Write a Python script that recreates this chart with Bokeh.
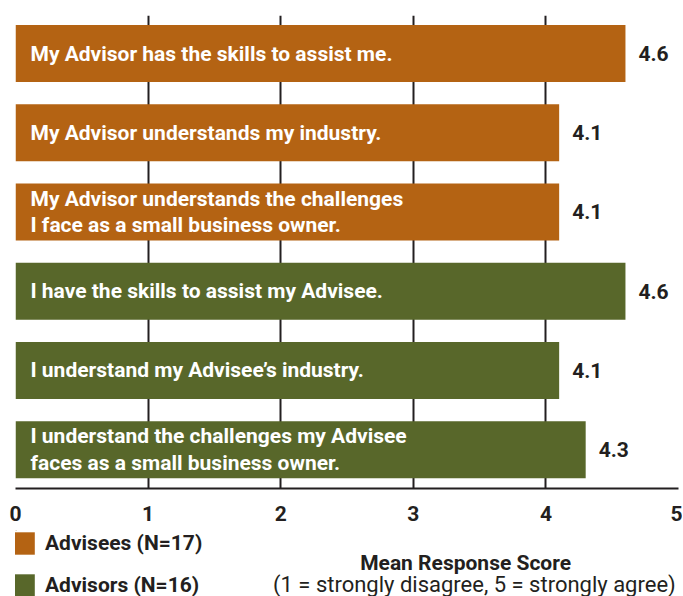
from bokeh.plotting import figure
from bokeh.layouts import column
from bokeh.models import (Range1d, FixedTicker, Legend, LegendItem, Label,
                          ColumnDataSource)
from bokeh.core.properties import value
from bokeh.embed import file_html
from bokeh.resources import INLINE

# ---- data ----
statements = [
    "My Advisor has the skills to assist me.",
    "My Advisor understands my industry.",
    "My Advisor understands the challenges\nI face as a small business owner.",
    "I have the skills to assist my Advisee.",
    "I understand my Advisee\u2019s industry.",
    "I understand the challenges my Advisee\nfaces as a small business owner.",
]
scores = [4.6, 4.1, 4.1, 4.6, 4.1, 4.3]
groups = ["Advisees (N=17)"] * 3 + ["Advisors (N=16)"] * 3
group_names = ["Advisees (N=17)", "Advisors (N=16)"]
group_colors = ["#B46313", "#58672A"]
x_ticks = [0, 1, 2, 3, 4, 5]
axis_title = "Mean Response Score"
axis_subtitle = "(1 = strongly disagree, 5 = strongly agree)"

FONT = "Roboto"
DARK = "#231F20"
FS = "21px"

W = 682
H1 = 530
H2 = 66

p = figure(width=W, height=H1, output_backend="svg", toolbar_location=None,
           x_range=Range1d(0, 5), y_range=Range1d(5.49, -0.48),
           min_border_left=15, min_border_right=4, min_border_top=15,
           min_border_bottom=42)
p.outline_line_color = None
p.yaxis.visible = False
p.ygrid.visible = False
p.xgrid.ticker = FixedTicker(ticks=x_ticks)
p.xgrid.grid_line_color = DARK
p.xgrid.grid_line_width = 2
p.xgrid.grid_line_alpha = 1

xa = p.xaxis[0]
xa.ticker = FixedTicker(ticks=x_ticks)
xa.axis_line_color = DARK
xa.axis_line_width = 2
xa.major_tick_in = 0
xa.major_tick_out = 0
xa.minor_tick_in = 0
xa.minor_tick_out = 0
xa.major_label_text_font = FONT
xa.major_label_text_font_style = "bold"
xa.major_label_text_font_size = FS
xa.major_label_text_color = DARK
xa.major_label_standoff = 17

idx = list(range(len(statements)))
for name, color in zip(group_names, group_colors):
    sel = [i for i in idx if groups[i] == name]
    src = ColumnDataSource(dict(y=sel, score=[scores[i] for i in sel]))
    p.hbar(y="y", left=0, right="score", height=0.72, source=src,
           fill_color=color, line_color=None)

src_all = ColumnDataSource(dict(y=idx, score=scores, text=statements,
                                vals=[f"{s:.1f}" for s in scores]))
p.text(x=0, y="y", text="text", source=src_all, x_offset=15,
       text_color="white", text_font=value(FONT), text_font_style="bold",
       text_font_size=FS, text_baseline="middle", text_align="left",
       text_line_height=1.1)
p.text(x="score", y="y", text="vals", source=src_all, x_offset=13,
       text_color=DARK, text_font=value(FONT), text_font_style="bold",
       text_font_size=FS, text_baseline="middle", text_align="left")

# ---- lower panel: legend and axis title ----
p2 = figure(width=W, height=H2, output_backend="svg", toolbar_location=None,
            x_range=Range1d(0, W), y_range=Range1d(H2, 0),
            min_border=0)
p2.outline_line_color = None
p2.axis.visible = False
p2.grid.visible = False

items = []
for name, color in zip(group_names, group_colors):
    # legend swatch source placed far outside the visible range
    r = p2.hbar(y=[-1000], left=[0], right=[1], height=1, fill_color=color,
                line_color=None)
    items.append(LegendItem(label=name, renderers=[r]))
legend = Legend(items=items, location=(-5, -3))
legend.glyph_width = 27
legend.glyph_height = 28
legend.spacing = 14
legend.label_standoff = 8
legend.label_height = 28
legend.label_text_font = FONT
legend.label_text_font_style = "bold"
legend.label_text_font_size = FS
legend.label_text_color = DARK
legend.padding = 0
legend.margin = 0
legend.border_line_color = None
legend.background_fill_alpha = 0
p2.add_layout(legend)

p2.add_layout(Label(x=463, y=32, text=axis_title, text_align="center",
                    text_baseline="middle", text_font=FONT, text_font_style="bold",
                    text_font_size=FS, text_color=DARK))
p2.add_layout(Label(x=472, y=54, text=axis_subtitle, text_align="center",
                    text_baseline="middle", text_font=FONT,
                    text_font_size="22px", text_color=DARK))

layout = column(p, p2, spacing=0)
open("out.html", "w").write(file_html(layout, INLINE))
